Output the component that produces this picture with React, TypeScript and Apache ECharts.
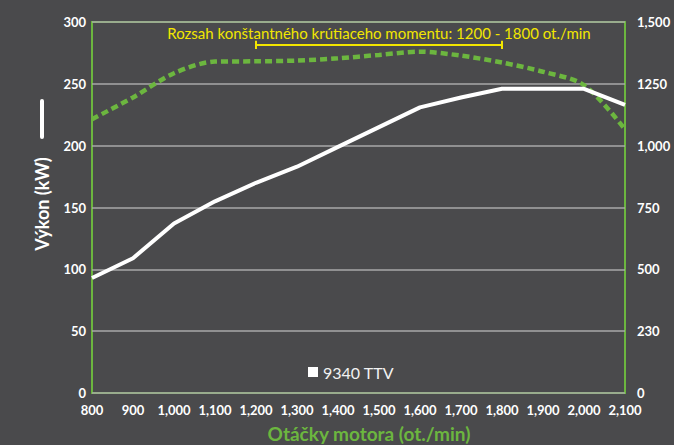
import React, { useEffect, useRef } from "react";
import * as echarts from "echarts";

const rpm = [800, 900, 1000, 1100, 1200, 1300, 1400, 1500, 1600, 1700, 1800, 1900, 2000, 2100];
const powerKW = [93, 109, 137, 155, 170, 183, 199, 215, 231, 239, 246, 246, 246, 233];
const torqueNm = [1107, 1195, 1293, 1340, 1341, 1344, 1353, 1367, 1380, 1364, 1336, 1299, 1245, 1066];
const xTickLabels = ["800", "900", "1,000", "1,100", "1,200", "1,300", "1,400", "1,500", "1,600", "1,700", "1,800", "1,900", "2,000", "2,100"];
const leftTickLabels = ["0", "50", "100", "150", "200", "250", "300"];
const rightTickLabels = ["0", "230", "500", "750", "1,000", "1250", "1,500"];
const seriesName = "9340 TTV";
const rangeText = "Rozsah konštantného krútiaceho momentu: 1200 - 1800 ot./min";
const constantRange = [1200, 1800];
const bracketLevel = 281.5;
const bracketTick = [278.2, 284.8];

const BG = "#4a4a4c";
const GREEN = "#6cb63f";
const YELLOW = "#f2e600";
const FONT = "Lato, 'DejaVu Sans', sans-serif";

export default function App() {
  const ref = useRef<HTMLDivElement>(null);
  useEffect(() => {
    document.body.style.background = BG;
    const chart = echarts.init(ref.current!, null, { renderer: "svg" });
    const labelStyle = { color: "#ffffff", fontWeight: "bold" as const, fontSize: 13, fontFamily: FONT };
    chart.setOption({
      animation: false,
      backgroundColor: BG,
      grid: { left: 92, right: 49, top: 22, bottom: 52, show: true, borderColor: GREEN, borderWidth: 2, backgroundColor: "transparent" },
      legend: {
        data: [seriesName],
        left: 303,
        top: 359,
        icon: "rect",
        itemWidth: 10,
        itemHeight: 10,
        itemGap: 6,
        textStyle: { color: "#f2f2f2", fontSize: 16, fontFamily: FONT },
      },
      xAxis: {
        type: "value",
        min: 800,
        max: 2100,
        interval: 100,
        axisLine: { show: false },
        axisTick: { show: false },
        splitLine: { show: false },
        axisLabel: {
          ...labelStyle,
          margin: 10,
          formatter: (v: number) => xTickLabels[Math.round((v - 800) / 100)] ?? "",
        },
      },
      yAxis: [
        {
          type: "value",
          min: 0,
          max: 300,
          interval: 50,
          axisLine: { show: false },
          axisTick: { show: false },
          splitLine: { show: true, lineStyle: { color: "#a9a9a9", width: 1.5 } },
          axisLabel: { ...labelStyle, margin: 6, formatter: (v: number) => leftTickLabels[Math.round(v / 50)] ?? "" },
        },
        {
          type: "value",
          min: 0,
          max: 1500,
          interval: 250,
          position: "right",
          axisLine: { show: false },
          axisTick: { show: false },
          splitLine: { show: false },
          axisLabel: { ...labelStyle, margin: 12, formatter: (v: number) => rightTickLabels[Math.round(v / 250)] ?? "" },
        },
      ],
      series: [
        {
          name: "torque",
          type: "line",
          yAxisIndex: 1,
          data: rpm.map((r, i) => [r, torqueNm[i]]),
          showSymbol: false,
          smooth: 0.3,
          lineStyle: { color: GREEN, width: 4.5, type: [7, 4] },
          itemStyle: { color: GREEN },
          z: 2,
        },
        {
          name: seriesName,
          type: "line",
          yAxisIndex: 0,
          data: rpm.map((r, i) => [r, powerKW[i]]),
          showSymbol: false,
          lineStyle: { color: "#ffffff", width: 4 },
          itemStyle: { color: "#ffffff" },
          z: 3,
          markLine: {
            silent: true,
            symbol: "none",
            animation: false,
            lineStyle: { color: YELLOW, width: 2, type: "solid" },
            label: { show: false },
            data: [
              [
                {
                  coord: [constantRange[0], bracketLevel],
                  label: {
                    show: true,
                    position: "middle",
                    formatter: rangeText,
                    color: YELLOW,
                    fontSize: 15,
                    fontFamily: FONT,
                    distance: 4,
                  },
                },
                { coord: [constantRange[1], bracketLevel] },
              ],
              [{ coord: [constantRange[0], bracketTick[0]] }, { coord: [constantRange[0], bracketTick[1]] }],
              [{ coord: [constantRange[1], bracketTick[0]] }, { coord: [constantRange[1], bracketTick[1]] }],
            ],
          },
        },
      ],
      graphic: [
        {
          type: "line",
          shape: { x1: 42, y1: 101, x2: 42, y2: 137 },
          style: { stroke: "#ffffff", lineWidth: 4, lineCap: "round" },
        },
        {
          type: "text",
          x: 42,
          y: 204,
          rotation: Math.PI / 2,
          style: {
            text: "Výkon (kW)",
            fill: "#ffffff",
            font: `bold 18px ${FONT}`,
            align: "center",
            verticalAlign: "middle",
          },
        },
        {
          type: "text",
          x: 369,
          y: 433,
          style: {
            text: "Otáčky motora (ot./min)",
            fill: GREEN,
            font: `bold 19px ${FONT}`,
            align: "center",
            verticalAlign: "middle",
          },
        },
      ],
    });
    return () => chart.dispose();
  }, []);
  return <div ref={ref} style={{ position: "absolute", left: 0, top: 0, width: 674, height: 445 }} />;
}
